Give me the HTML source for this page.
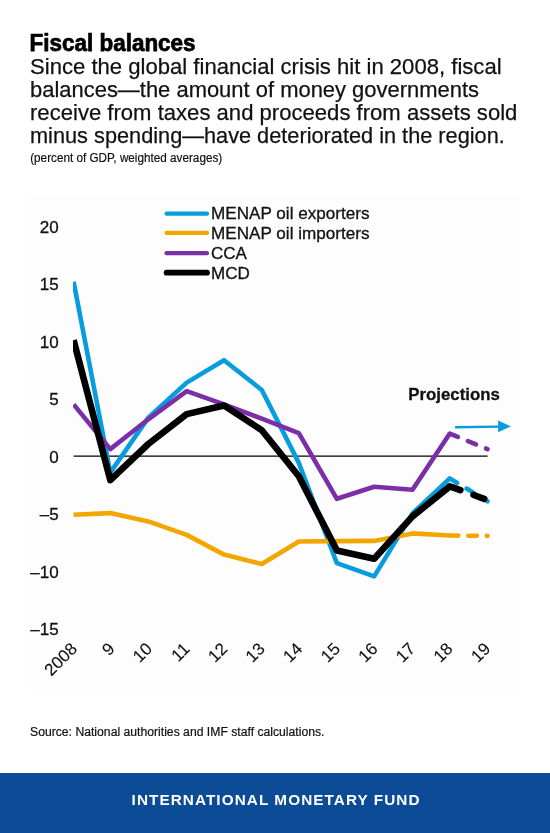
<!DOCTYPE html>
<html><head><meta charset="utf-8"><style>
html,body{margin:0;padding:0;background:#fff;width:550px;height:833px;overflow:hidden}
svg{display:block;will-change:transform;font-family:"Liberation Sans",sans-serif}
</style></head><body>
<svg width="550" height="833" viewBox="0 0 550 833">
<rect width="550" height="833" fill="#fff"/>
<text x="29.6" y="50.7" font-size="23.5" font-weight="bold" textLength="166.0" lengthAdjust="spacingAndGlyphs" fill="#000" stroke="#000" stroke-width="0.75">Fiscal balances</text>
<text x="30.0" y="73.6" font-size="22.5" textLength="471.6" lengthAdjust="spacingAndGlyphs" fill="#111" stroke="#111" stroke-width="0.25">Since the global financial crisis hit in 2008, fiscal</text>
<text x="30.0" y="96.8" font-size="22.5" textLength="449.0" lengthAdjust="spacingAndGlyphs" fill="#111" stroke="#111" stroke-width="0.25">balances—the amount of money governments</text>
<text x="30.0" y="119.5" font-size="22.5" textLength="487.4" lengthAdjust="spacingAndGlyphs" fill="#111" stroke="#111" stroke-width="0.25">receive from taxes and proceeds from assets sold</text>
<text x="30.0" y="142.8" font-size="22.5" textLength="474.8" lengthAdjust="spacingAndGlyphs" fill="#111" stroke="#111" stroke-width="0.25">minus spending—have deteriorated in the region.</text>
<text x="30.2" y="161.8" font-size="12.5" textLength="192.0" lengthAdjust="spacingAndGlyphs" fill="#111" stroke="#111" stroke-width="0.2">(percent of GDP, weighted averages)</text>
<rect x="30" y="196" width="490" height="494" fill="#FDFDFD"/>
<text x="58.6" y="232.8" text-anchor="end" font-size="17" fill="#111" stroke="#111" stroke-width="0.3">20</text>
<text x="58.6" y="290.2" text-anchor="end" font-size="17" fill="#111" stroke="#111" stroke-width="0.3">15</text>
<text x="58.6" y="347.7" text-anchor="end" font-size="17" fill="#111" stroke="#111" stroke-width="0.3">10</text>
<text x="58.6" y="405.2" text-anchor="end" font-size="17" fill="#111" stroke="#111" stroke-width="0.3">5</text>
<text x="58.6" y="462.6" text-anchor="end" font-size="17" fill="#111" stroke="#111" stroke-width="0.3">0</text>
<text x="58.6" y="520.1" text-anchor="end" font-size="17" fill="#111" stroke="#111" stroke-width="0.3">–5</text>
<text x="58.6" y="577.5" text-anchor="end" font-size="17" fill="#111" stroke="#111" stroke-width="0.3">–10</text>
<text x="58.6" y="635.0" text-anchor="end" font-size="17" fill="#111" stroke="#111" stroke-width="0.3">–15</text>
<line x1="73.6" y1="456.2" x2="487.6" y2="456.2" stroke="#000" stroke-width="1.2"/>
<clipPath id="pa"><rect x="73.0" y="196" width="447" height="494"/></clipPath><g clip-path="url(#pa)">
<polyline points="73.6,281.7 110.3,472.6 148.3,417.6 186.7,382.6 224.0,360.2 261.8,390.0 298.8,462.9 336.9,563.2 374.2,576.4 412.5,513.4 449.8,478.4" fill="none" stroke="#059DDD" stroke-width="4.6" stroke-linejoin="round"/>
<polyline points="449.8,478.4 487.5,501.3" fill="none" stroke="#059DDD" stroke-width="4.6" stroke-linejoin="round" stroke-linecap="round" stroke-dasharray="8.7 10.9"/>
<polyline points="73.6,514.7 110.3,513.1 148.3,521.4 186.7,534.9 224.0,554.6 261.8,564.0 298.8,541.5 336.9,541.1 374.2,540.9 412.5,533.4 449.8,535.5" fill="none" stroke="#F2A700" stroke-width="4.6" stroke-linejoin="round"/>
<polyline points="449.8,535.5 487.5,535.9" fill="none" stroke="#F2A700" stroke-width="4.6" stroke-linejoin="round" stroke-linecap="round" stroke-dasharray="8.6 9.9"/>
<polyline points="73.6,404.4 110.3,449.1 148.3,419.3 186.7,391.2 224.0,404.4 261.8,418.7 298.8,433.1 336.9,498.8 374.2,486.7 412.5,489.8 449.8,433.6" fill="none" stroke="#7A2FA8" stroke-width="4.6" stroke-linejoin="round"/>
<polyline points="449.8,433.6 487.5,449.1" fill="none" stroke="#7A2FA8" stroke-width="4.6" stroke-linejoin="round" stroke-linecap="round" stroke-dasharray="8.7 10.9"/>
<polyline points="73.6,340.2 110.3,480.1 148.3,444.0 186.7,414.1 224.0,405.5 261.8,430.2 298.8,476.3 336.9,550.5 374.2,558.7 412.5,516.4 449.8,486.4" fill="none" stroke="#000000" stroke-width="6.6" stroke-linejoin="round"/>
<polyline points="449.8,486.4 487.5,500.0" fill="none" stroke="#000000" stroke-width="6.6" stroke-linejoin="round" stroke-linecap="round" stroke-dasharray="11.2 14.1"/>
</g>
<text transform="translate(78.1,649.9) rotate(-45)" text-anchor="end" font-size="17" fill="#111" stroke="#111" stroke-width="0.12">2008</text>
<text transform="translate(115.7,649.9) rotate(-45)" text-anchor="end" font-size="17" fill="#111" stroke="#111" stroke-width="0.12">9</text>
<text transform="translate(153.2,649.9) rotate(-45)" text-anchor="end" font-size="17" fill="#111" stroke="#111" stroke-width="0.12">10</text>
<text transform="translate(190.8,649.9) rotate(-45)" text-anchor="end" font-size="17" fill="#111" stroke="#111" stroke-width="0.12">11</text>
<text transform="translate(228.4,649.9) rotate(-45)" text-anchor="end" font-size="17" fill="#111" stroke="#111" stroke-width="0.12">12</text>
<text transform="translate(265.9,649.9) rotate(-45)" text-anchor="end" font-size="17" fill="#111" stroke="#111" stroke-width="0.12">13</text>
<text transform="translate(303.5,649.9) rotate(-45)" text-anchor="end" font-size="17" fill="#111" stroke="#111" stroke-width="0.12">14</text>
<text transform="translate(341.1,649.9) rotate(-45)" text-anchor="end" font-size="17" fill="#111" stroke="#111" stroke-width="0.12">15</text>
<text transform="translate(378.7,649.9) rotate(-45)" text-anchor="end" font-size="17" fill="#111" stroke="#111" stroke-width="0.12">16</text>
<text transform="translate(416.2,649.9) rotate(-45)" text-anchor="end" font-size="17" fill="#111" stroke="#111" stroke-width="0.12">17</text>
<text transform="translate(453.8,649.9) rotate(-45)" text-anchor="end" font-size="17" fill="#111" stroke="#111" stroke-width="0.12">18</text>
<text transform="translate(491.4,649.9) rotate(-45)" text-anchor="end" font-size="17" fill="#111" stroke="#111" stroke-width="0.12">19</text>
<line x1="166.6" y1="213.7" x2="207.0" y2="213.7" stroke="#059DDD" stroke-width="4.2" stroke-linecap="round"/>
<text x="211.0" y="219.0" font-size="17" textLength="158.6" lengthAdjust="spacingAndGlyphs" fill="#111" stroke="#111" stroke-width="0.3">MENAP oil exporters</text>
<line x1="166.6" y1="232.9" x2="207.0" y2="232.9" stroke="#F2A700" stroke-width="4.2" stroke-linecap="round"/>
<text x="211.0" y="239.0" font-size="17" textLength="158.6" lengthAdjust="spacingAndGlyphs" fill="#111" stroke="#111" stroke-width="0.3">MENAP oil importers</text>
<line x1="166.6" y1="253.2" x2="207.0" y2="253.2" stroke="#7A2FA8" stroke-width="4.2" stroke-linecap="round"/>
<text x="211.0" y="259.2" font-size="17" fill="#111" stroke="#111" stroke-width="0.3">CCA</text>
<line x1="166.6" y1="272.7" x2="207.0" y2="272.7" stroke="#000000" stroke-width="5.8" stroke-linecap="round"/>
<text x="211.0" y="279.2" font-size="17" fill="#111" stroke="#111" stroke-width="0.3">MCD</text>
<text x="408.3" y="399.8" font-size="17" font-weight="bold" textLength="91.5" lengthAdjust="spacingAndGlyphs" fill="#111" stroke="#111" stroke-width="0.3">Projections</text>
<line x1="455.1" y1="427.2" x2="499" y2="426.6" stroke="#059DDD" stroke-width="2.4"/>
<polygon points="498.1,420.5 510.9,426.3 498.1,432.2" fill="#059DDD"/>
<text x="30.0" y="735.7" font-size="12" textLength="294.5" lengthAdjust="spacingAndGlyphs" fill="#111" stroke="#111" stroke-width="0.2">Source: National authorities and IMF staff calculations.</text>
<rect x="0" y="773" width="550" height="60" fill="#0C4B95"/>
<text x="131.6" y="804.6" font-size="14.5" font-weight="bold" textLength="289.0" lengthAdjust="spacingAndGlyphs" fill="#fff" letter-spacing="1.0">INTERNATIONAL MONETARY FUND</text>
</svg>
</body></html>
